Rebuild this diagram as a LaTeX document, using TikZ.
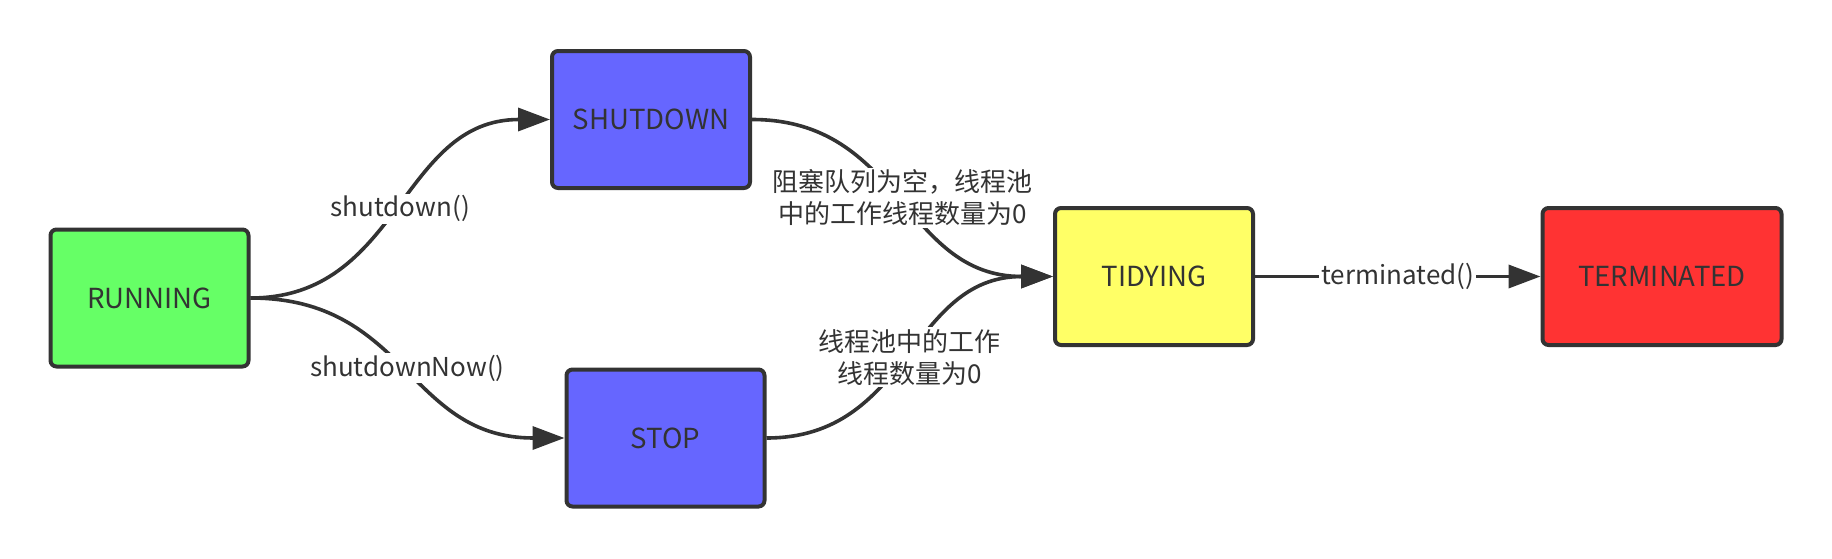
\documentclass[tikz,border=0pt]{standalone}
\usepackage{fontspec}
\setmainfont{Noto Sans CJK SC}
\usetikzlibrary{arrows.meta}
\definecolor{ink}{HTML}{333333}
\definecolor{cgreen}{HTML}{66FF66}
\definecolor{cblue}{HTML}{6666FF}
\definecolor{cyellow}{HTML}{FFFF66}
\definecolor{cred}{HTML}{FF3333}
\tikzset{
  state/.style={draw=ink, line width=2pt, rounded corners=3pt, minimum width=99pt, minimum height=68.5pt,
    text=ink, font=\fontsize{13.8pt}{16pt}\selectfont, inner sep=0pt},
  conn/.style={draw=ink, line width=1.8pt, -{Triangle[length=16pt,width=11.5pt]}},
  lbl/.style={fill=white, text=ink, font=\fontsize{13pt}{16pt}\selectfont, align=center, inner sep=1pt}
}
\begin{document}
\begin{tikzpicture}[x=0.5pt,y=-0.5pt]
\useasboundingbox (0,0) rectangle (1832,558);
\node[state, fill=cgreen] (running) at (149.5,298) {RUNNING};
\node[state, fill=cblue] (shutdown) at (651,119.5) {SHUTDOWN};
\node[state, fill=cblue] (stop) at (665.5,438) {STOP};
\node[state, fill=cyellow] (tidying) at (1154,276.5) {TIDYING};
\node[state, fill=cred, minimum width=119.5pt] (terminated) at (1662,276.5) {TERMINATED};
\draw[conn] (running.east) .. controls +(150,0) and +(-150,0) .. node[lbl]{shutdown()} (shutdown.west);
\draw[conn] (running.east) .. controls +(157,0) and +(-157,0) .. node[lbl]{shutdownNow()} (stop.west);
\draw[conn] (shutdown.east) .. controls +(150,0) and +(-150,0) .. node[lbl]{阻塞队列为空，线程池\\中的工作线程数量为0} (tidying.west);
\draw[conn] (stop.east) .. controls +(144,0) and +(-144,0) .. node[lbl]{线程池中的工作\\线程数量为0} (tidying.west);
\draw[conn] (tidying.east) -- node[lbl]{terminated()} (terminated.west);
\end{tikzpicture}
\end{document}
